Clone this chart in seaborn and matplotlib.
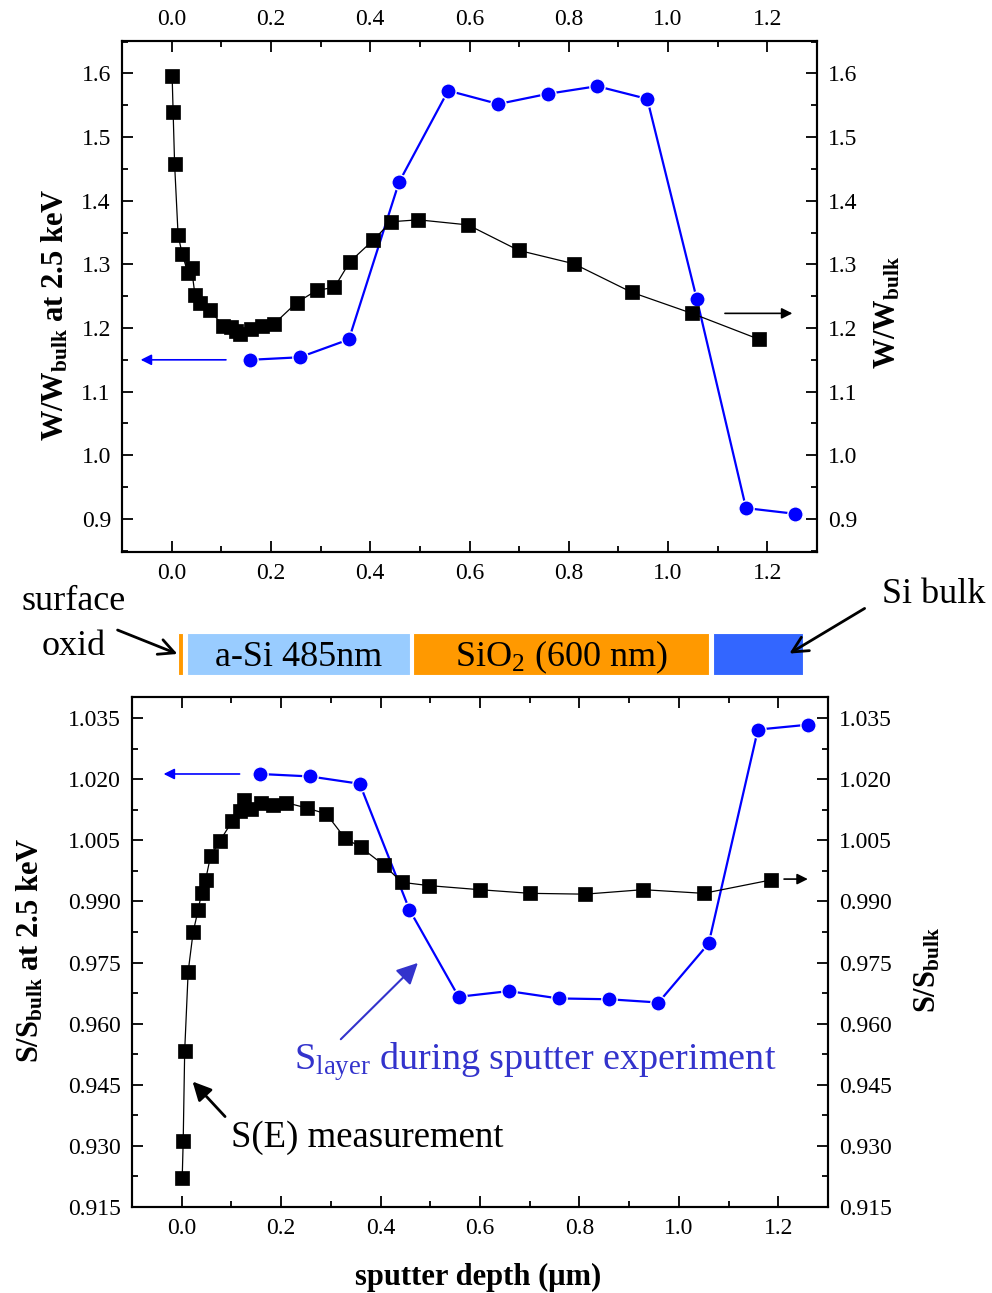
import matplotlib
matplotlib.use("Agg")
import matplotlib.pyplot as plt
import seaborn as sns
from matplotlib.ticker import MultipleLocator, FormatStrFormatter

# --- data ---
# W parameter, S(E) measurement (black squares, right axis)
w_se_x = [0.001, 0.003, 0.006, 0.013, 0.021, 0.033, 0.040, 0.047, 0.057, 0.077,
          0.104, 0.119, 0.129, 0.138, 0.159, 0.183, 0.207, 0.252, 0.292, 0.328,
          0.359, 0.406, 0.442, 0.497, 0.597, 0.699, 0.810, 0.927, 1.048, 1.184]
w_se_y = [1.596, 1.539, 1.457, 1.346, 1.317, 1.286, 1.294, 1.252, 1.240, 1.228,
          1.203, 1.202, 1.195, 1.190, 1.199, 1.203, 1.207, 1.240, 1.259, 1.264,
          1.304, 1.338, 1.367, 1.370, 1.362, 1.322, 1.301, 1.256, 1.223, 1.182]

# W parameter, sputter experiment (blue circles, left axis)
w_sp_x = [0.158, 0.258, 0.357, 0.458, 0.557, 0.658, 0.758, 0.857, 0.958, 1.058, 1.157, 1.256]
w_sp_y = [1.150, 1.154, 1.182, 1.429, 1.573, 1.552, 1.568, 1.580, 1.560, 1.245, 0.917, 0.908]

# S parameter, S(E) measurement
s_se_x = [0.001, 0.003, 0.006, 0.013, 0.023, 0.033, 0.040, 0.048, 0.058, 0.077,
          0.102, 0.117, 0.125, 0.139, 0.160, 0.184, 0.209, 0.253, 0.291, 0.328,
          0.360, 0.406, 0.443, 0.497, 0.599, 0.701, 0.811, 0.928, 1.050, 1.186]
s_se_y = [0.9221, 0.9313, 0.9534, 0.9728, 0.9825, 0.9879, 0.9921, 0.9953, 1.0011, 1.0049,
          1.0098, 1.0123, 1.0148, 1.0127, 1.0141, 1.0138, 1.0143, 1.0129, 1.0115, 1.0056,
          1.0033, 0.9990, 0.9947, 0.9939, 0.9929, 0.9920, 0.9918, 0.9929, 0.9920, 0.9953]

# S parameter, sputter experiment
s_sp_x = [0.158, 0.258, 0.358, 0.458, 0.557, 0.658, 0.758, 0.859, 0.959, 1.060, 1.159, 1.260]
s_sp_y = [1.0213, 1.0207, 1.0189, 0.9880, 0.9666, 0.9680, 0.9662, 0.9660, 0.9652, 0.9797, 1.0322, 1.0334]

# sample layer stack (depth in um)
layer_names = ["", "a-Si 485nm", r"SiO$_2$ (600 nm)", ""]
layer_start = [0.013, 0.030, 0.487, 1.091]
layer_width = [0.009, 0.450, 0.595, 0.180]
layer_colors = ["#FF9900", "#99CCFF", "#FF9900", "#3366FF"]

# --- style ---
sns.set_style("ticks")
plt.rcParams["font.family"] = ["Liberation Serif", "DejaVu Serif"]
plt.rcParams["mathtext.default"] = "regular"
plt.rcParams["axes.linewidth"] = 1.5
for key in ["text.color", "axes.labelcolor", "xtick.color", "ytick.color", "axes.edgecolor"]:
    plt.rcParams[key] = "black"

W, H = 992, 1293
fig = plt.figure(figsize=(W / 100, H / 100), dpi=100)


def box(left, top, right, bottom):
    # pixel box -> figure fraction
    return [left / W, 1 - bottom / H, (right - left) / W, (bottom - top) / H]


def style_axis(a, ymaj, ymin, yfmt):
    a.set_xlim(-0.1, 1.3)
    a.xaxis.set_major_locator(MultipleLocator(0.2))
    a.xaxis.set_minor_locator(MultipleLocator(0.1))
    a.xaxis.set_major_formatter(FormatStrFormatter("%.1f"))
    a.yaxis.set_major_locator(MultipleLocator(ymaj))
    a.yaxis.set_minor_locator(MultipleLocator(ymin))
    a.yaxis.set_major_formatter(FormatStrFormatter(yfmt))
    a.tick_params(which="both", direction="in", width=1.3, labelsize=17, pad=8,
                  color="black", labelcolor="black")
    a.tick_params(which="major", length=8)
    a.tick_params(which="minor", length=4.5)
    a.set_xlabel("")
    a.set_ylabel("")
    for s in a.spines.values():
        s.set_linewidth(1.5)
        s.set_color("black")
        s.set_visible(True)


blue_kw = dict(sort=False, estimator=None, color="blue", marker="o", markersize=11,
               linewidth=1.6, markeredgecolor="white", markeredgewidth=1.0)
black_kw = dict(sort=False, estimator=None, color="black", marker="s", markersize=9.5,
                linewidth=0.9, markeredgecolor="black", markeredgewidth=0.5)

# --- top panel: W parameter ---
ax = fig.add_axes(box(122, 41, 817, 552))
ax2 = ax.twinx()
sns.lineplot(x=w_sp_x, y=w_sp_y, ax=ax, **blue_kw)
sns.lineplot(x=w_se_x, y=w_se_y, ax=ax2, **black_kw)
for a in (ax, ax2):
    style_axis(a, 0.1, 0.05, "%.1f")
    a.set_ylim(0.848, 1.651)
ax.tick_params(which="both", top=True, labeltop=True, bottom=True, labelbottom=True,
               left=True, right=False)
ax2.tick_params(which="both", right=True, labelright=True, left=False, labelleft=False)

ax.annotate("", xy=(-0.068, 1.150), xytext=(0.115, 1.150),
            arrowprops=dict(arrowstyle="-|>", color="blue", lw=1.2, mutation_scale=16))
ax2.annotate("", xy=(1.256, 1.223), xytext=(1.109, 1.223),
             arrowprops=dict(arrowstyle="-|>", color="black", lw=1.2, mutation_scale=16))

# --- middle: layer stack ---
am = fig.add_axes(box(122, 633, 817, 675))
am.barh([0.5] * len(layer_start), layer_width, left=layer_start, height=1.0,
        color=layer_colors, edgecolor="white", linewidth=0.8)
for name, l0, wd in zip(layer_names, layer_start, layer_width):
    if name:
        am.text(l0 + wd / 2, 0.42, name, ha="center", va="center", fontsize=26)
am.set_xlim(-0.1, 1.3)
am.set_ylim(0, 1)
am.axis("off")

fig.text(74 / W, 1 - 610 / H, "surface", ha="center", va="baseline", fontsize=26)
fig.text(74 / W, 1 - 655 / H, "oxid", ha="center", va="baseline", fontsize=26)
fig.text(934 / W, 1 - 603 / H, "Si bulk", ha="center", va="baseline", fontsize=26)
am.annotate("", xy=(180, H - 655), xytext=(115, H - 629), xycoords="figure pixels",
            textcoords="figure pixels",
            arrowprops=dict(arrowstyle="->", color="black", lw=2, mutation_scale=28))
am.annotate("", xy=(787, H - 655), xytext=(867, H - 607), xycoords="figure pixels",
            textcoords="figure pixels",
            arrowprops=dict(arrowstyle="->", color="black", lw=2, mutation_scale=28))

# --- bottom panel: S parameter ---
bx = fig.add_axes(box(132, 697, 828, 1207))
bx2 = bx.twinx()
sns.lineplot(x=s_sp_x, y=s_sp_y, ax=bx, **blue_kw)
sns.lineplot(x=s_se_x, y=s_se_y, ax=bx2, **black_kw)
for a in (bx, bx2):
    style_axis(a, 0.015, 0.0075, "%.3f")
    a.set_ylim(0.915, 1.0402)
bx.tick_params(which="both", top=True, labeltop=False, bottom=True, labelbottom=True,
               left=True, right=False)
bx2.tick_params(which="both", right=True, labelright=True, left=False, labelleft=False)

bx.annotate("", xy=(-0.042, 1.0213), xytext=(0.122, 1.0213),
            arrowprops=dict(arrowstyle="-|>", color="blue", lw=1.2, mutation_scale=16))
bx2.annotate("", xy=(1.265, 0.9955), xytext=(1.206, 0.9955),
             arrowprops=dict(arrowstyle="-|>", color="black", lw=1.2, mutation_scale=16))

bx.annotate("", xy=(0.479, 0.9754), xytext=(0.316, 0.9557),
            arrowprops=dict(arrowstyle="-|>", color="#3333CC", lw=1.5, mutation_scale=32))
bx.text(0.225, 0.9488, r"S$_{layer}$ during sputter experiment", color="#3333CC",
        fontsize=27.5, ha="left", va="baseline")
bx.annotate("", xy=(0.018, 0.9463), xytext=(0.091, 0.9367),
            arrowprops=dict(arrowstyle="-|>", color="black", lw=2, mutation_scale=28))
bx.text(0.099, 0.9319, "S(E) measurement", fontsize=26.5, ha="left", va="center")

# --- axis titles ---
lab = dict(fontsize=22, fontweight="bold", rotation=90, ha="center", va="center")
fig.text(55 / W, 1 - 315 / H, r"W/W$_{bulk}$ at 2.5 keV", **lab)
fig.text(888 / W, 1 - 312 / H, r"W/W$_{bulk}$", **lab)
fig.text(30 / W, 1 - 950 / H, r"S/S$_{bulk}$ at 2.5 keV", **lab)
fig.text(928 / W, 1 - 970 / H, r"S/S$_{bulk}$", **lab)
fig.text(478 / W, 1 - 1277 / H, "sputter depth (μm)", fontsize=22, fontweight="bold",
         ha="center", va="center")

fig.savefig("out.png", dpi=100)
